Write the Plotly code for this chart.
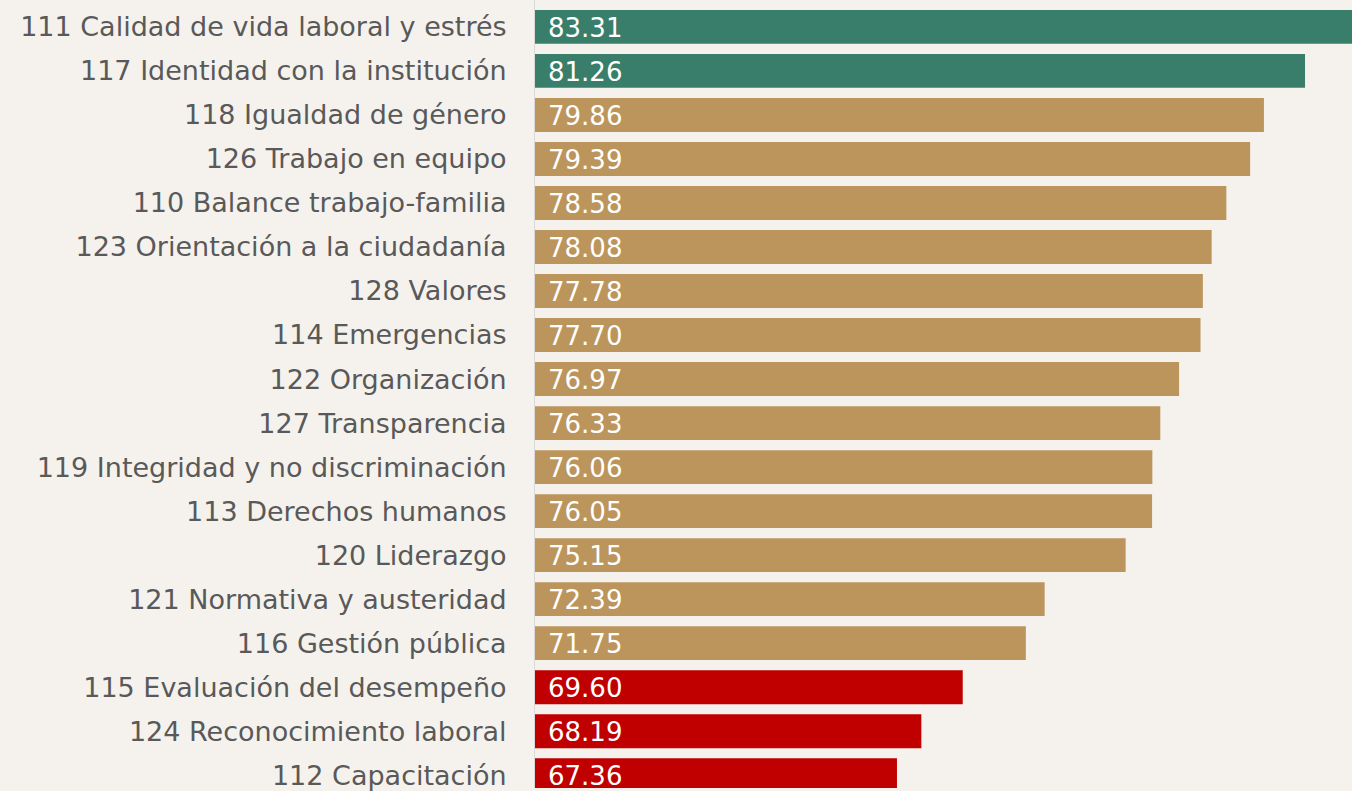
import plotly.graph_objects as go

# factores del clima laboral, de mayor a menor
factores = [
    "111 Calidad de vida laboral y estrés",
    "117 Identidad con la institución",
    "118 Igualdad de género",
    "126 Trabajo en equipo",
    "110 Balance trabajo-familia",
    "123 Orientación a la ciudadanía",
    "128 Valores",
    "114 Emergencias",
    "122 Organización",
    "127 Transparencia",
    "119 Integridad y no discriminación",
    "113 Derechos humanos",
    "120 Liderazgo",
    "121 Normativa y austeridad",
    "116 Gestión pública",
    "115 Evaluación del desempeño",
    "124 Reconocimiento laboral",
    "112 Capacitación",
]
puntajes = [83.31, 81.26, 79.86, 79.39, 78.58, 78.08, 77.78, 77.70, 76.97,
            76.33, 76.06, 76.05, 75.15, 72.39, 71.75, 69.60, 68.19, 67.36]

VERDE = "#387e6b"
DORADO = "#bc955c"
ROJO = "#c00000"
FUENTE = "'DejaVu Sans', 'Noto Sans', sans-serif"


def color_de(v):
    if v >= 80:
        return VERDE
    if v >= 70:
        return DORADO
    return ROJO


colores = [color_de(v) for v in puntajes]

fig = go.Figure(go.Bar(
    x=puntajes,
    y=factores,
    orientation="h",
    marker=dict(color=colores, line=dict(width=0)),
    width=0.77,
    hoverinfo="skip",
))

# valores dentro de cada barra, pegados al inicio del eje
for f, v in zip(factores, puntajes):
    fig.add_annotation(
        x=0, xref="paper", y=f, yref="y",
        text=f"{v:.2f}", showarrow=False,
        xanchor="left", xshift=11, yshift=-1,
        font=dict(color="white", size=26, family=FUENTE),
    )

fig.update_layout(
    width=1352, height=791,
    margin=dict(l=535, r=0, t=0, b=0),
    paper_bgcolor="#f5f2ed",
    plot_bgcolor="#f5f2ed",
    showlegend=False,
    font=dict(family=FUENTE, color="#595959"),
)
fig.update_xaxes(range=[55.03, 82.86], visible=False, showgrid=False, zeroline=False)
fig.update_yaxes(
    type="category",
    range=[17.29, -0.611],
    showgrid=False,
    showline=True, linecolor="#d9d9d9", linewidth=1,
    ticks="", ticklabelstandoff=22,
    tickfont=dict(size=27, color="#595959"),
)

fig.write_html(
    "out.html",
    config={"displayModeBar": False},
    post_script="document.body.style.margin='0';document.body.style.overflow='hidden';",
)
